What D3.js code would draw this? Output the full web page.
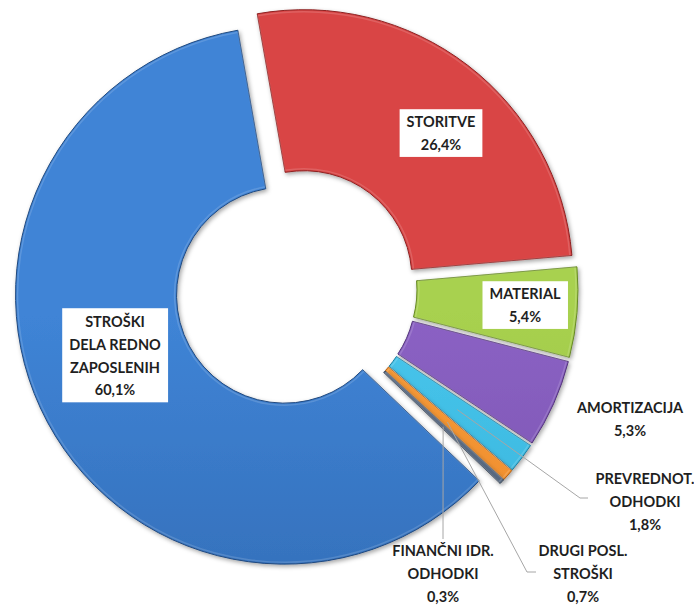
<!DOCTYPE html>
<html>
<head>
<meta charset="utf-8">
<script src="https://cdn.jsdelivr.net/npm/d3@7"></script>
<style>
  html, body { margin: 0; padding: 0; background: #ffffff; }
  svg { display: block; }
  text { font-family: Lato, "Open Sans", sans-serif; font-weight: bold; fill: #1f1f1f; }
</style>
</head>
<body>
<div id="chart"></div>
<script>
// ---- data ----
const categories = ["STORITVE", "MATERIAL", "AMORTIZACIJA", "PREVREDNOT. ODHODKI", "DRUGI POSL. STROŠKI", "FINANČNI IDR. ODHODKI", "STROŠKI DELA REDNO ZAPOSLENIH"];
const values = [26.4, 5.4, 5.3, 1.8, 0.7, 0.3, 60.1];
const labelLines = [
  ["STORITVE"],
  ["MATERIAL"],
  ["AMORTIZACIJA"],
  ["PREVREDNOT.", "ODHODKI"],
  ["DRUGI POSL.", "STROŠKI"],
  ["FINANČNI IDR.", "ODHODKI"],
  ["STROŠKI", "DELA REDNO", "ZAPOSLENIH"]
];

// ---- styles / layout ----
const colors = [
  ["#d94545", "#b52d2d"],
  ["#a8d14f", "#84ae33"],
  ["#8b62c4", "#6a449c"],
  ["#48c6ec", "#28a0ca"],
  ["#f79c3a", "#e37816"],
  ["#5f7088", "#47566c"],
  ["#3f84d6", "#2b5ea2"]
];
const W = 694, H = 605;
const cx = 296, cy = 289;
const rOuter = 269, rInner = 108, explode = 13;
const startDeg = -10;
const lineH = 22.7;
const labelLayout = [
  { x: 441, y: 122, box: true },
  { x: 525, y: 294, box: true },
  { x: 630, y: 408, box: false },
  { x: 645, y: 479, box: false, leader: [580, 498], tail: 8 },
  { x: 583, y: 551, box: false, leader: [527, 572], tail: 9 },
  { x: 443, y: 551, box: false, leader: [443, 539], tail: 0 },
  { x: 115, y: 322, box: true }
];

const fmt = v => v.toFixed(1).replace(".", ",") + "%";

const svg = d3.select("#chart").append("svg")
  .attr("width", W).attr("height", H);

const defs = svg.append("defs");
colors.forEach((c, i) => {
  const g = defs.append("linearGradient")
    .attr("id", "g" + i)
    .attr("gradientUnits", "userSpaceOnUse")
    .attr("x1", 0).attr("y1", cy - rOuter).attr("x2", 0).attr("y2", cy + rOuter);
  g.append("stop").attr("offset", "0%").attr("stop-color", c[0]);
  g.append("stop").attr("offset", "100%").attr("stop-color", c[1]);
});
const f = defs.append("filter").attr("id", "sh")
  .attr("x", "-10%").attr("y", "-10%").attr("width", "120%").attr("height", "120%");
f.append("feDropShadow").attr("dx", 1.5).attr("dy", 2).attr("stdDeviation", 2)
  .attr("flood-color", "#000").attr("flood-opacity", 0.35);

const pie = d3.pie().sort(null)
  .startAngle(startDeg * Math.PI / 180)
  .endAngle((startDeg + 360) * Math.PI / 180);
const arcs = pie(values);
const arc = d3.arc().innerRadius(rInner).outerRadius(rOuter);
const mid = d => (d.startAngle + d.endAngle) / 2;
const off = d => [Math.sin(mid(d)) * explode, -Math.cos(mid(d)) * explode];

const g = svg.append("g").attr("transform", `translate(${cx},${cy})`);

g.selectAll("path.slice").data(arcs).join("path")
  .attr("class", "slice")
  .attr("transform", d => `translate(${off(d)[0]},${off(d)[1]})`)
  .attr("d", arc)
  .attr("fill", (d, i) => `url(#g${i})`)
  .attr("stroke", (d, i) => d3.color(colors[i][1]).darker(0.7))
  .attr("stroke-width", 1)
  .attr("stroke-linejoin", "round")
  .attr("filter", "url(#sh)");

const arcHi = d3.arc().innerRadius(rInner + 2).outerRadius(rOuter - 2);
g.selectAll("path.hi").data(arcs).join("path")
  .attr("class", "hi")
  .attr("transform", d => `translate(${off(d)[0]},${off(d)[1]})`)
  .attr("d", arcHi)
  .attr("fill", "none")
  .attr("stroke", "rgba(255,255,255,0.15)")
  .attr("stroke-width", 1.5);

// leader lines from slice centroid
const lines = svg.append("g");
arcs.forEach((d, i) => {
  const L = labelLayout[i];
  if (!L.leader) return;
  const c = arc.centroid(d);
  const o = off(d);
  const p0 = [cx + c[0] + o[0], cy + c[1] + o[1]];
  const pts = [p0, L.leader];
  if (L.tail) pts.push([L.leader[0] + L.tail, L.leader[1]]);
  lines.append("path")
    .attr("d", d3.line()(pts))
    .attr("fill", "none")
    .attr("stroke", "#a6a6a6")
    .attr("stroke-width", 1);
});

// labels
const lab = svg.append("g");
arcs.forEach((d, i) => {
  const L = labelLayout[i];
  const txt = labelLines[i].concat([fmt(values[i])]);
  const grp = lab.append("g");
  const t = grp.append("text")
    .attr("text-anchor", "middle")
    .style("font-size", "14.5px");
  txt.forEach((s, k) => {
    t.append("tspan")
      .attr("x", L.x)
      .attr("y", L.y + k * lineH)
      .attr("dy", "0.36em")
      .text(s);
  });
  if (L.box) {
    const bb = t.node().getBBox();
    grp.insert("rect", "text")
      .attr("x", bb.x - 7).attr("y", bb.y - 4)
      .attr("width", bb.width + 14).attr("height", bb.height + 8)
      .attr("fill", "#ffffff");
  }
});
</script>
</body>
</html>
